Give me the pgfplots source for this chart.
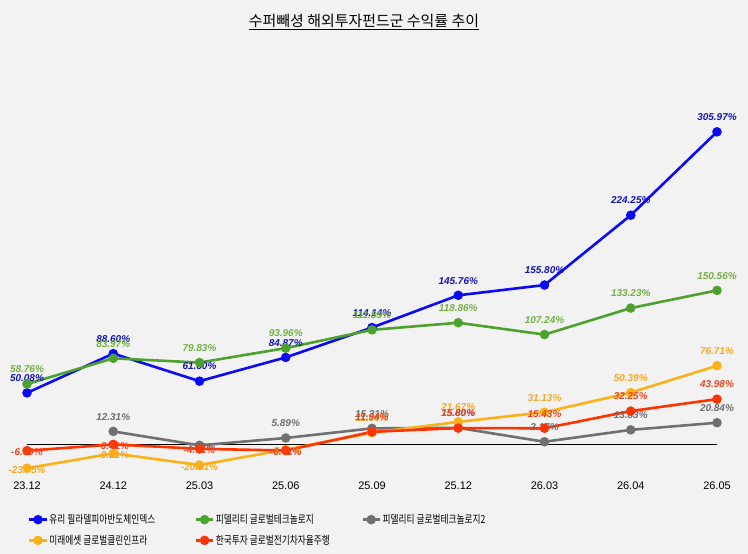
\documentclass[border=0pt]{standalone}
\usepackage{fontspec}
\usepackage{pgfplots}
\pgfplotsset{compat=1.18}
\setmainfont{Liberation Sans}
\newfontfamily\krT{Noto Sans CJK KR}
\newfontfamily\krL[FakeStretch=0.78]{Noto Sans CJK KR}
\definecolor{bg}{HTML}{F2F2F2}
\definecolor{cB}{HTML}{0A0AF5}
\definecolor{cBl}{HTML}{1515B5}
\definecolor{cG}{HTML}{4CA22C}
\definecolor{cGl}{HTML}{72B043}
\definecolor{cY}{HTML}{707070}
\definecolor{cYl}{HTML}{6E6E6E}
\definecolor{cO}{HTML}{FCB117}
\definecolor{cOl}{HTML}{F7A823}
\definecolor{cR}{HTML}{FF3300}
\definecolor{cRl}{HTML}{EE4420}
\begin{document}
\begin{tikzpicture}
\path[use as bounding box, fill=bg] (0,0) rectangle (748bp,554bp);
\node[font=\krT\fontsize{15}{17}\selectfont] at (364bp,532bp) {\underline{수퍼빼셩 해외투자펀드군 수익률 추이}};
\begin{axis}[
  at={(27bp,79.4bp)}, anchor=south west,
  scale only axis, width=690bp, height=439.7bp,
  xmin=0, xmax=8, ymin=-30, ymax=401,
  clip=false,
  axis line style={draw=none},
  tick style={draw=none},
  ytick=\empty,
  xtick={0,...,8},
  xticklabels={23.12,24.12,25.03,25.06,25.09,25.12,26.03,26.04,26.05},
  xticklabel style={font=\fontsize{11}{13}\selectfont, yshift=-4bp},
  /pgf/number format/assume math mode=true,
  every axis plot/.append style={line width=2.6bp, mark=*, mark size=3.4bp},
  every node near coord/.append style={font=\bfseries\itshape\fontsize{10}{12}\selectfont, yshift=6.5bp},
  legend columns=3,
  legend style={at={(axis description cs:0,0)}, anchor=north west, xshift=1bp, yshift=-38bp,
    draw=none, fill=none, inner sep=0pt, row sep=7bp, nodes={inner sep=1.5bp},
    font=\krL\fontsize{11.2}{13}\selectfont},
  legend cell align=left,
  lab/.style={nodes near coords={\pgfmathprintnumber[fixed,fixed zerofill,precision=2]{\pgfplotspointmeta}\%},
    point meta=explicit, every node near coord/.append style={text=#1}},
]
\addplot[black, line width=0.8bp, no marks, forget plot] coordinates {(0,0) (8,0)};
\addplot[color=cB, lab=cBl] table[meta=m] {
x y m
0 50.08 50.08
1 88.60 88.60
2 61.60 61.60
3 84.87 84.87
4 114.14 114.14
5 145.76 145.76
6 155.80 155.80
7 224.25 224.25
8 305.97 305.97
};
\addlegendentry{\makebox[144bp][l]{유리 필라델피아반도체인덱스}}
\addplot[color=cG, lab=cGl] table[meta=m] {
x y m
0 58.76 58.76
1 83.97 83.97
2 79.83 79.83
3 93.96 93.96
4 111.85 111.85
5 118.86 118.86
6 107.24 107.24
7 133.23 133.23
8 150.56 150.56
};
\addlegendentry{\makebox[144bp][l]{피델리티 글로벌테크놀로지}}
\addplot[color=cY, lab=cYl] table[meta=m] {
x y m
1 12.31 12.31
2 -1.32 -1.32
3 5.89 5.89
4 15.31 15.31
5 15.80 15.80
6 2.17 2.17
7 13.83 13.83
8 20.84 20.84
};
\addlegendentry{\makebox[144bp][l]{피델리티 글로벌테크놀로지2}}
\addplot[color=cO, lab=cOl] table[meta=m] {
x y m
0 -23.75 -23.75
1 -9.21 -9.21
2 -20.61 -20.61
3 -5.51 -5.51
4 11.06 11.06
5 21.67 21.67
6 31.13 31.13
7 50.39 50.39
8 76.71 76.71
};
\addlegendentry{\makebox[144bp][l]{미래에셋 글로벌클린인프라}}
\addplot[color=cR, lab=cRl] table[meta=m] {
x y m
0 -6.60 -6.60
1 -0.41 -0.41
2 -4.71 -4.71
3 -6.41 -6.41
4 11.94 11.94
5 15.60 15.60
6 15.43 15.43
7 32.25 32.25
8 43.98 43.98
};
\addlegendentry{\makebox[144bp][l]{한국투자 글로벌전기차자율주행}}
\end{axis}
\end{tikzpicture}
\end{document}
